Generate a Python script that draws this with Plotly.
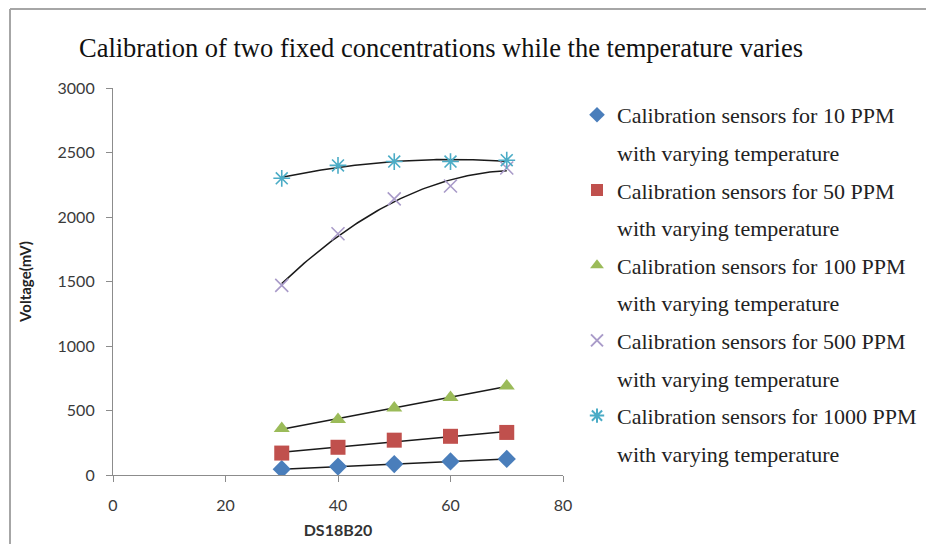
import numpy as np
import plotly.graph_objects as go

# ---- data ----
temperature = [30, 40, 50, 60, 70]
ppm10 = [45, 65, 85, 105, 125]
ppm50 = [170, 215, 270, 300, 330]
ppm100 = [360, 430, 520, 600, 690]
ppm500 = [1470, 1870, 2140, 2240, 2380]
ppm1000 = [2300, 2400, 2430, 2430, 2440]

series_names = [
    "Calibration sensors for 10 PPM",
    "Calibration sensors for 50 PPM",
    "Calibration sensors for 100 PPM",
    "Calibration sensors for 500 PPM",
    "Calibration sensors for 1000 PPM",
]
second_line = "with varying temperature"
trend_degree = [1, 1, 1, 2, 2]

title_text = "Calibration of two fixed concentrations while the temperature varies"
x_title = "DS18B20"
y_title = "Voltage(mV)"
x_ticks = [0, 20, 40, 60, 80]
y_ticks = [0, 500, 1000, 1500, 2000, 2500, 3000]

# ---- styles ----
series_values = [ppm10, ppm50, ppm100, ppm500, ppm1000]
markers = [
    dict(symbol="diamond", size=14, color="#4a7ebb", line=dict(width=0)),
    dict(symbol="square", size=15, color="#c0504d", line=dict(width=0)),
    dict(symbol="triangle-up", size=14, color="#9bbb59", line=dict(width=0)),
    dict(symbol="x-thin-open", size=13, color="#a99bc9", line=dict(width=1.6, color="#a99bc9")),
    dict(symbol="asterisk-open", size=14, color="#4bacc6", line=dict(width=1.6, color="#7cc8da")),
]

# page has an 8px body margin; figure coordinates are page coordinates minus 8
OFF = 8
W, H = 934 - OFF, 544 - OFF
L, R, T, B = 113 - OFF, 563 - OFF, 88 - OFF, 475 - OFF

fig = go.Figure()

# trendlines (fit of the data, drawn first so markers sit on top)
xs = np.linspace(min(temperature), max(temperature), 81)
for vals, deg in zip(series_values, trend_degree):
    coeffs = np.polyfit(temperature, vals, deg)
    fig.add_trace(go.Scatter(
        x=xs, y=np.polyval(coeffs, xs), mode="lines",
        line=dict(color="#1a1a1a", width=1.5),
        showlegend=False, hoverinfo="skip",
    ))

for i, (name, vals, mk) in enumerate(zip(series_names, series_values, markers)):
    fig.add_trace(go.Scatter(
        x=temperature, y=vals, mode="markers", name=name,
        marker=mk, legendgroup=f"g{i}a", legendrank=2 * i + 1,
    ))
    fig.add_trace(go.Scatter(
        x=[None], y=[None], mode="markers", name=second_line,
        marker=dict(color="rgba(0,0,0,0)", size=1, line=dict(width=0, color="rgba(0,0,0,0)")),
        legendgroup=f"g{i}b", legendrank=2 * i + 2, hoverinfo="skip",
    ))


def px_x(p):
    return (p - OFF - L) / (R - L)


def px_y(p):
    return (B - (p - OFF)) / (B - T)


axis_color = "#8c8c8c"
tick_font = dict(family="Lato, Liberation Sans, sans-serif", size=16, color="#3a3a3a")

fig.update_layout(
    width=W, height=H,
    margin=dict(l=L, r=W - R, t=T, b=H - B, autoexpand=False),
    paper_bgcolor="white", plot_bgcolor="white",
    title=dict(
        text=title_text, x=(441 - OFF) / W, xanchor="center", y=1 - (48 - OFF) / H, yanchor="middle",
        font=dict(family="Liberation Serif, serif", size=26.5, color="#111111"),
    ),
    xaxis=dict(
        range=[0, 80], tickvals=x_ticks, showgrid=False, zeroline=False, automargin=False,
        showline=True, linecolor=axis_color, linewidth=1.2,
        ticks="outside", ticklen=6, tickcolor=axis_color, tickwidth=1.2,
        tickfont=tick_font, ticklabelstandoff=10,
        title=dict(text=f"<b>{x_title}</b>", standoff=11,
                   font=dict(family="Lato, Liberation Sans, sans-serif", size=16, color="#333333")),
    ),
    yaxis=dict(
        range=[0, 3000], tickvals=y_ticks, showgrid=False, zeroline=False, automargin=False,
        showline=True, linecolor=axis_color, linewidth=1.2,
        ticks="outside", ticklen=6, tickcolor=axis_color, tickwidth=1.2,
        tickfont=tick_font, ticklabelstandoff=8,
        title=dict(text=f"<b>{y_title}</b>", standoff=22,
                   font=dict(family="Lato, Liberation Sans, sans-serif", size=15, color="#222222")),
    ),
    legend=dict(
        x=px_x(577), xanchor="left", y=px_y(94), yanchor="top",
        font=dict(family="Liberation Serif, serif", size=22, color="#222222"),
        traceorder="grouped", tracegroupgap=6, maxheight=600,
        bgcolor="rgba(0,0,0,0)", itemsizing="constant",
    ),
    shapes=[
        dict(type="line", xref="paper", yref="paper",
             x0=px_x(10), x1=px_x(940), y0=px_y(9), y1=px_y(9),
             line=dict(color="#a6a6a6", width=2)),
        dict(type="line", xref="paper", yref="paper",
             x0=px_x(10), x1=px_x(10), y0=px_y(9), y1=px_y(550),
             line=dict(color="#a6a6a6", width=2)),
    ],
)

fig.write_html("out.html")
